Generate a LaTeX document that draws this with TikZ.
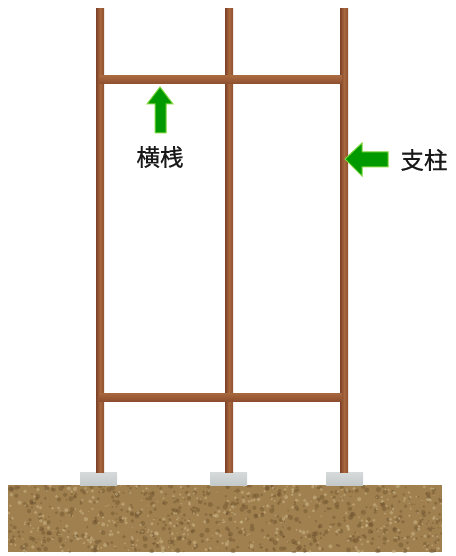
\documentclass[tikz,border=0pt]{standalone}
\usepackage{fontspec}
\newfontfamily\jpfont[FakeBold=0.6]{Noto Sans CJK JP}
\begin{document}
\begin{tikzpicture}[x=1pt,y=-1pt,
  wood/.style={left color=woodA,right color=woodB,middle color=woodC},
  beam/.style={top color=woodC,bottom color=woodB},
  footing/.style={top color=concreteL,bottom color=concrete},
  marker/.style={fill=arrowgreen,draw=arrowedge,line width=1pt,line join=miter},
  label/.style={font=\jpfont\fontsize{23.5}{24}\selectfont,text=black!90}]
\definecolor{woodA}{HTML}{7E4228}
\definecolor{woodB}{HTML}{8C4E2E}
\definecolor{woodC}{HTML}{A8683E}
\definecolor{concrete}{HTML}{C4C9CA}
\definecolor{concreteL}{HTML}{D6DADB}
\definecolor{soil}{HTML}{A0804E}
\definecolor{soilD}{HTML}{6E5230}
\definecolor{soilL}{HTML}{CDB88A}
\definecolor{arrowgreen}{HTML}{009A00}
\definecolor{arrowedge}{HTML}{7ED63E}
\useasboundingbox (0,0) rectangle (455,556);
\fill[white] (0,0) rectangle (455,556);

% ground with speckled soil texture
\fill[soil] (8,485) rectangle (442,552);
\pgfmathsetseed{42}
\begin{scope}
\clip (8,485) rectangle (442,552);
\foreach \i in {1,...,600}{
  \pgfmathsetmacro{\px}{8+434*rnd}
  \pgfmathsetmacro{\py}{485+67*rnd}
  \pgfmathsetmacro{\pr}{0.8+1.8*rnd}
  \fill[soilD,opacity=0.45] (\px,\py) circle[radius=\pr];
}
\foreach \i in {1,...,450}{
  \pgfmathsetmacro{\px}{8+434*rnd}
  \pgfmathsetmacro{\py}{485+67*rnd}
  \pgfmathsetmacro{\pr}{0.6+1.5*rnd}
  \fill[soilL,opacity=0.55] (\px,\py) circle[radius=\pr];
}
\end{scope}

% concrete footings
\fill[footing] (80,472) rectangle (117,485);
\fill[footing] (210,472) rectangle (247,485);
\fill[footing] (326,472) rectangle (363,485);

% posts
\fill[wood] (96,9) rectangle (104,472);
\fill[wood] (225,9) rectangle (233,472);
\fill[wood] (340,9) rectangle (348,472);

% cross rails
\fill[beam] (99,76) rectangle (342,84);
\fill[beam] (99,393) rectangle (342,401);

% labels
\node[label] (rail) at (160,157) {横桟};
\node[label] (post) at (424,160) {支柱};

% pointer arrows
\draw[marker] (160,87) -- (173,104) -- (166,104) -- (166,133) -- (155,133)
  -- (155,104) -- (147,104) -- cycle;
\draw[marker] (345,159) -- (362,143) -- (362,152) -- (388,152) -- (388,167)
  -- (362,167) -- (362,176) -- cycle;
\end{tikzpicture}
\end{document}
